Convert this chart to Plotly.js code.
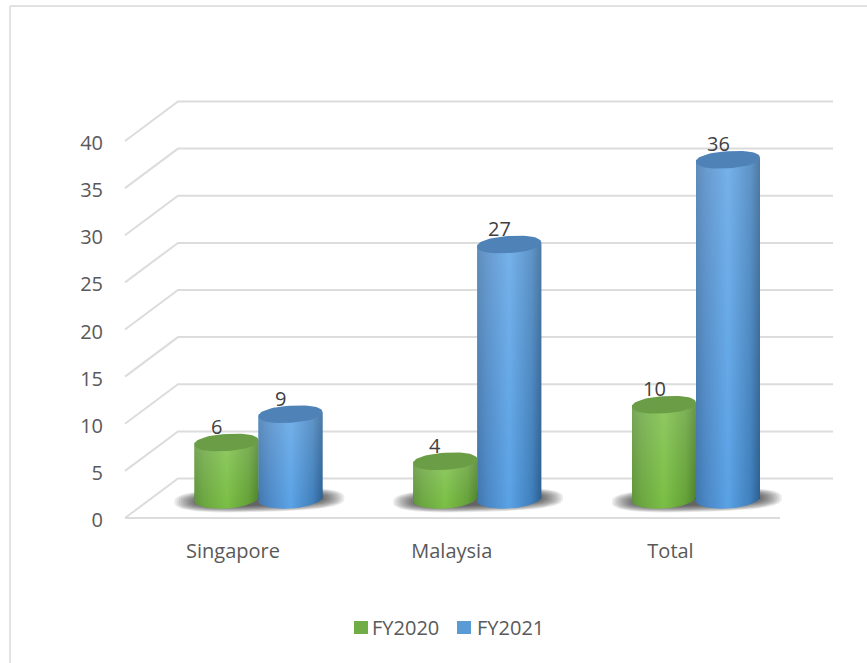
<!DOCTYPE html>
<html><head><meta charset="utf-8">
<script src="https://cdn.plot.ly/plotly-3.0.1.min.js"></script>
<style>html,body{margin:0;padding:0;background:#fff}#c{width:867px;height:663px}</style>
</head><body><div id="c"></div>
<script>
const categories=['Singapore','Malaysia','Total'];
const fy2020=[6,4,10];
const fy2021=[9,27,36];
const yTicks=[0,5,10,15,20,25,30,35,40];
const seriesNames=['FY2020','FY2021'];

const W=867,H=663,L=104,R=840,T=90,B=537;
const pxU=9.425, pxX=218.75;
const x0px=233, x0pxBar=258.5, y0px=518, y0pxBar=499;
const rangeX=c=>[(L-c)/pxX,(R-c)/pxX];
const rangeY=c=>[(c-B)/pxU,(c-T)/pxU];
const dx=53/pxX, dy=39.5/pxU;
const gridL=(125-x0px)/pxX, frontR=(780-x0px)/pxX;
const backR=(833-x0px)/pxX;
const barW=64/pxX;

const traces=[];
const skip={hoverinfo:'skip',showlegend:false};
yTicks.forEach(v=>{
  traces.push(Object.assign({type:'scatter',mode:'lines',x:[gridL,gridL+dx,backR],y:[v,v+dy,v+dy],xaxis:'x',yaxis:'y',
    line:{color:'#dcdcdc',width:2}},skip));
});
traces.push(Object.assign({type:'scatter',mode:'lines',x:[gridL,frontR],y:[0,0],xaxis:'x',yaxis:'y',
  line:{color:'#dcdcdc',width:2}},skip));

const spow=(c,e)=>Math.sign(c)*Math.pow(Math.abs(c),e);
const ell=(cx,cy,a,b,tilt,t0,t1,e=1,n=60)=>{const xs=[],ys=[];
  for(let i=0;i<=n;i++){const t=t0+(t1-t0)*i/n, c=spow(Math.cos(t),e), s=spow(Math.sin(t),e);
    xs.push(cx+a*c/pxX);
    ys.push(cy+(b*s+tilt*c)/pxU);}
  return [xs,ys];};

categories.forEach((c,i)=>{
  for(let k=0;k<12;k++){
    const [xs,ys]=ell(i+0.004,-0.1,85-k*2.2,12-k*0.6,2,0,2*Math.PI,0.72);
    traces.push(Object.assign({type:'scatter',mode:'lines',x:xs,y:ys,xaxis:'x2',yaxis:'y2',fill:'toself',
      fillcolor:'rgba(30,30,30,0.09)',line:{width:0}},skip));
  }
});
const palette=[
 {base:'#70ad47',top:'#6a9d45',scale:[[0,'#5e9437'],[0.15,'#6aa63f'],[0.5,'#7abf44'],[0.85,'#62a035'],[1,'#4c8128']]},
 {base:'#5b9bd5',top:'#4f82b7',scale:[[0,'#3f76ad'],[0.15,'#4a86c4'],[0.5,'#5aa2e6'],[0.85,'#3f7fbc'],[1,'#2c5f92']]}
];
[fy2020,fy2021].forEach((vals,s)=>{
  traces.push({type:'bar',name:seriesNames[s],x:categories.map((c,i)=>i),y:vals,xaxis:'x2',yaxis:'y2',
    width:barW,offset:s===0?-barW:0,marker:{color:palette[s].base,line:{width:0}},showlegend:false,hoverinfo:'y+name'});
});
const TILT=2;
[fy2020,fy2021].forEach((vals,s)=>{
  vals.forEach((v,i)=>{
    const cx=i+(s===0?-barW/2:barW/2), a=32;
    const [bx,by]=ell(cx,0,a,-9.5,TILT,Math.PI,0);
    const xs=bx.concat([cx+a/pxX,cx-a/pxX,cx-a/pxX]), ys=by.concat([v+TILT/pxU,v-TILT/pxU,-TILT/pxU]);
    traces.push(Object.assign({type:'scatter',mode:'lines',x:xs,y:ys,xaxis:'x2',yaxis:'y2',fill:'toself',
      line:{width:0},fillgradient:{type:'horizontal',colorscale:palette[s].scale}},skip));
    traces.push(Object.assign({type:'scatter',mode:'lines',x:xs,y:ys,xaxis:'x2',yaxis:'y2',fill:'toself',
      line:{width:0},fillgradient:{type:'vertical',colorscale:[[0,'rgba(255,255,255,0)'],[1,'rgba(255,255,255,0.17)']]}},skip));
    const [ex,ey]=ell(cx,v,a,8.5,TILT,0,2*Math.PI,0.9);
    traces.push(Object.assign({type:'scatter',mode:'lines',x:ex,y:ey,xaxis:'x2',yaxis:'y2',fill:'toself',
      fillcolor:palette[s].top,line:{width:0}},skip));
  });
});

const ann=[];
[fy2020,fy2021].forEach((vals,s)=>vals.forEach((v,i)=>{
  ann.push({xref:'x2',yref:'y2',x:i+(s===0?-barW/2:barW/2),y:v,text:String(v),showarrow:false,
    xshift:-10,yshift:16,font:{family:'Open Sans',size:20,color:'#404040'}});
}));
const px=p=>(p-L)/(R-L), py=p=>(B-p)/(B-T);
const legend=[[354,372],[457,477]];
const shapes=[
 {type:'line',xref:'paper',yref:'paper',x0:px(10),x1:px(10),y0:py(663),y1:py(6),line:{color:'#d9d9d9',width:1.5},layer:'below'},
 {type:'line',xref:'paper',yref:'paper',x0:px(10),x1:px(867),y0:py(6),y1:py(6),line:{color:'#d9d9d9',width:1.5},layer:'below'}];
seriesNames.forEach((n,s)=>{
  shapes.push({type:'rect',xref:'paper',yref:'paper',x0:px(legend[s][0]),x1:px(legend[s][0]+14),y0:py(634),y1:py(621),
    fillcolor:palette[s].base,line:{width:0}});
  ann.push({xref:'paper',yref:'paper',x:px(legend[s][1]-2),y:py(627),xanchor:'left',yanchor:'middle',text:n,showarrow:false,
    font:{family:'Open Sans',size:20,color:'#595959'}});
});

const layout={width:W,height:H,margin:{l:L,r:W-R,t:T,b:H-B},paper_bgcolor:'#fff',plot_bgcolor:'rgba(0,0,0,0)',
  showlegend:false,barmode:'overlay',shapes:shapes,annotations:ann,
  font:{family:'Open Sans',color:'#595959',size:20},
  xaxis:{type:'linear',range:rangeX(x0px),tickmode:'array',tickvals:categories.map((c,i)=>i),ticktext:categories,
    showgrid:false,zeroline:false,showline:false,ticks:'',tickfont:{size:20,color:'#595959'}},
  yaxis:{type:'linear',range:rangeY(y0px),tickmode:'array',tickvals:yTicks,ticktext:yTicks.map(String),
    showgrid:false,zeroline:false,showline:false,ticks:'',ticklabelshift:2,tickfont:{size:20,color:'#595959'}},
  xaxis2:{type:'linear',overlaying:'x',range:rangeX(x0pxBar),visible:false},
  yaxis2:{type:'linear',overlaying:'y',range:rangeY(y0pxBar),visible:false}
};
Plotly.newPlot('c',traces,layout,{displayModeBar:false,responsive:false});
</script></body></html>
